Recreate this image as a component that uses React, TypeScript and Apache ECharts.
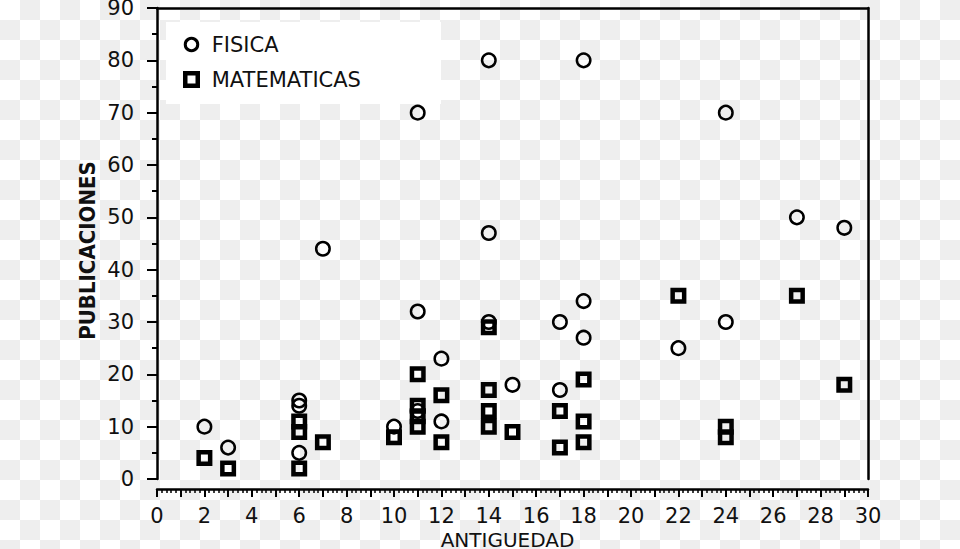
import React, { useEffect, useRef } from "react";
import * as echarts from "echarts";

const fisicaX = [2, 3, 6, 6, 6, 7, 10, 11, 11, 11, 12, 12, 14, 14, 14, 15, 17, 17, 18, 18, 18, 22, 24, 24, 27, 29];
const fisicaY = [10, 6, 15, 14, 5, 44, 10, 70, 32, 13, 23, 11, 80, 47, 30, 18, 30, 17, 80, 34, 27, 25, 70, 30, 50, 48];

const mateX = [2, 3, 6, 6, 6, 7, 10, 11, 11, 11, 11, 12, 12, 14, 14, 14, 14, 15, 17, 17, 18, 18, 18, 22, 24, 24, 27, 29];
const mateY = [4, 2, 2, 9, 11, 7, 8, 20, 14, 12, 10, 16, 7, 29, 17, 13, 10, 9, 13, 6, 19, 11, 7, 35, 10, 8, 35, 18];

const xTicks = { min: 0, max: 30, interval: 1 };
const yTicks = { min: 0, max: 90, interval: 10 };

const FONT = "DejaVu Sans";

export default function App() {
  const ref = useRef<HTMLDivElement>(null);
  useEffect(() => {
    if (!ref.current) return;
    const chart = echarts.init(ref.current, undefined, { renderer: "svg" });
    const fis = fisicaX.map((x, i) => [x, fisicaY[i]]);
    const mat = mateX.map((x, i) => [x, mateY[i]]);
    chart.setOption({
      animation: false,
      backgroundColor: "transparent",
      textStyle: { fontFamily: FONT },
      grid: { left: 157, right: 92, top: 8, bottom: 70, containLabel: false, outerBoundsMode: "none" },
      graphic: [
        {
          type: "rect",
          left: 166,
          top: 22,
          z: 0,
          shape: { width: 275, height: 82 },
          style: { fill: "#ffffff" },
        },
      ],
      legend: {
        orient: "vertical",
        left: 178,
        top: 29,
        itemGap: 14,
        itemWidth: 12.5,
        itemHeight: 12.5,
        backgroundColor: "transparent",
        textStyle: { fontSize: 21, color: "#111", fontFamily: FONT, padding: [0, 0, 0, 9] },
        data: [
          { name: "FISICA", icon: "circle", itemStyle: { color: "rgba(255,255,255,0)", borderColor: "#000", borderWidth: 3 } },
          { name: "MATEMATICAS", icon: "rect", itemStyle: { color: "rgba(255,255,255,0)", borderColor: "#000", borderWidth: 4.5 } },
        ],
      },
      xAxis: [
        {
          type: "value",
          position: "bottom",
          min: xTicks.min,
          max: xTicks.max,
          interval: xTicks.interval,
          offset: 10,
          name: "ANTIGUEDAD",
          nameLocation: "middle",
          nameGap: 41,
          nameMoveOverlap: false,
          nameTextStyle: { fontSize: 20, color: "#111", fontFamily: FONT, padding: [0, 10, 0, 0] },
          axisLine: { show: true, onZero: false, lineStyle: { color: "#000", width: 2.5 } },
          axisTick: { show: true, length: 8, lineStyle: { color: "#000", width: 2 } },
          minorTick: { show: true, splitNumber: 5, length: 4, lineStyle: { color: "#000", width: 1.5 } },
          axisLabel: {
            fontSize: 21,
            color: "#111",
            margin: 16,
            fontFamily: FONT,
            formatter: (v: number) => (v % 2 === 0 ? String(v) : ""),
          },
          splitLine: { show: false },
          minorSplitLine: { show: false },
        },
        {
          type: "value",
          position: "top",
          min: xTicks.min,
          max: xTicks.max,
          axisLine: { show: true, onZero: false, lineStyle: { color: "#000", width: 2.5 } },
          axisTick: { show: false },
          axisLabel: { show: false },
          splitLine: { show: false },
        },
      ],
      yAxis: [
        {
          type: "value",
          position: "left",
          min: yTicks.min,
          max: yTicks.max,
          interval: yTicks.interval,
          name: "PUBLICACIONES",
          nameLocation: "middle",
          nameRotate: 90,
          nameGap: 59,
          nameMoveOverlap: false,
          nameTextStyle: {
            fontSize: 22,
            fontWeight: "bold",
            color: "#111",
            fontFamily: "DejaVu Sans Condensed",
            padding: [0, 14, 0, 0],
          },
          axisLine: { show: true, onZero: false, lineStyle: { color: "#000", width: 2.5 } },
          axisTick: { show: true, length: 10, lineStyle: { color: "#000", width: 2 } },
          minorTick: { show: true, splitNumber: 2, length: 5, lineStyle: { color: "#000", width: 2 } },
          axisLabel: { fontSize: 21, color: "#111", margin: 23, fontFamily: FONT },
          splitLine: { show: false },
          minorSplitLine: { show: false },
        },
        {
          type: "value",
          position: "right",
          min: yTicks.min,
          max: yTicks.max,
          axisLine: { show: true, onZero: false, lineStyle: { color: "#000", width: 2.5 } },
          axisTick: { show: false },
          axisLabel: { show: false },
          splitLine: { show: false },
        },
      ],
      series: [
        {
          name: "FISICA",
          type: "scatter",
          symbol: "circle",
          symbolSize: 13.5,
          data: fis,
          itemStyle: { color: "rgba(255,255,255,0)", borderColor: "#000", borderWidth: 2.5, opacity: 1 },
          emphasis: { disabled: true },
        },
        {
          name: "MATEMATICAS",
          type: "scatter",
          symbol: "rect",
          symbolSize: 11.5,
          data: mat,
          itemStyle: { color: "rgba(255,255,255,0)", borderColor: "#000", borderWidth: 4.5, opacity: 1 },
          emphasis: { disabled: true },
        },
      ],
    });
    return () => chart.dispose();
  }, []);
  return (
    <div
      ref={ref}
      style={{
        position: "fixed",
        left: 0,
        top: 0,
        width: 960,
        height: 549,
        backgroundColor: "#ffffff",
        backgroundImage: "repeating-conic-gradient(#eeeeee 0% 25%, #ffffff 0% 50%)",
        backgroundSize: "40px 40px",
        backgroundPosition: "0 0",
      }}
    />
  );
}
